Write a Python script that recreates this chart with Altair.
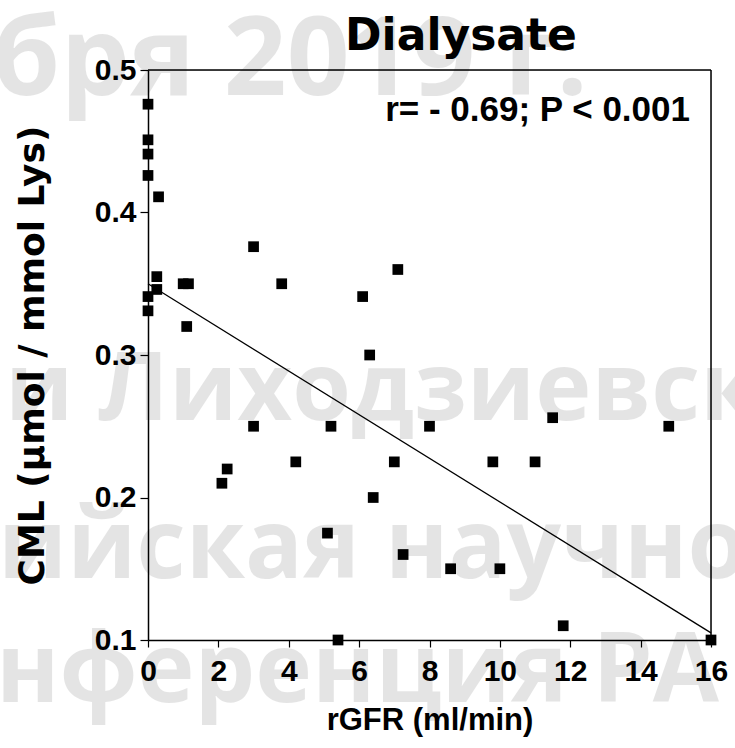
import altair as alt
import pandas as pd

# Scatter data: rGFR (ml/min) vs CML (umol / mmol Lys)
rgfr = [0, 0, 0, 0, 0.3, 0.25, 0.25, 0, 0, 1.0, 1.15, 1.1, 3.0, 3.8, 6.1, 7.1,
        6.3, 3.0, 5.2, 8.0, 11.5, 14.8, 2.25, 2.1, 4.2, 7.0, 9.8, 11.0, 6.4,
        5.1, 7.25, 8.6, 10.0, 5.4, 11.8, 16.0]
cml = [0.476, 0.451, 0.441, 0.426, 0.411, 0.355, 0.346, 0.341, 0.331, 0.350,
       0.350, 0.320, 0.376, 0.350, 0.341, 0.360, 0.300, 0.250, 0.250, 0.250,
       0.256, 0.250, 0.220, 0.210, 0.225, 0.225, 0.225, 0.225, 0.200, 0.175,
       0.160, 0.150, 0.150, 0.100, 0.110, 0.100]

# Regression line end points
fit_x = [0, 16]
fit_y = [0.35, 0.105]

title_text = "Dialysate"
stat_text = "r= - 0.69; P < 0.001"
x_title = "rGFR (ml/min)"
y_title = "CML (µmol / mmol Lys)"
x_ticks = list(range(0, 17))
y_ticks = [0.1, 0.2, 0.3, 0.4, 0.5]

watermark = ["бря 2019 г.", "и Лиходзиевск", "ийская научно", "нференция РА"]

pts = pd.DataFrame({"x": rgfr, "y": cml})
fit = pd.DataFrame({"x": fit_x, "y": fit_y})

W, H = 563, 570
LAB_FONT = "Liberation Sans"
WM_FONT = "Open Sans"

xscale = alt.Scale(domain=[0, 16], nice=False, zero=False)
yscale = alt.Scale(domain=[0.1, 0.5], nice=False, zero=False)

xaxis = alt.Axis(
    values=x_ticks, labelExpr="datum.value % 2 == 0 ? datum.label : ''",
    format="d", grid=False, domainColor="black", domainWidth=1.5,
    tickColor="black", tickWidth=1.2, tickSize=7, labelPadding=9,
    labelFont=LAB_FONT, labelFontSize=30, labelFontWeight="bold", labelColor="black",
    title=x_title, titleFont=LAB_FONT, titleFontSize=31, titleFontWeight="bold",
    titleColor="black", titleX=W / 2, titleY=89, titleAlign="center",
    titleBaseline="alphabetic", labelFlush=False, labelOverlap=False, zindex=2,
)
yaxis = alt.Axis(
    values=y_ticks, format=".1f", grid=False, domainColor="black", domainWidth=1.5,
    tickColor="black", tickWidth=1.2, tickSize=8, labelPadding=4,
    labelFont=LAB_FONT, labelFontSize=30, labelFontWeight="bold", labelColor="black",
    title=y_title, titleFont="DejaVu Sans", titleFontSize=36, titleFontWeight="bold",
    titleColor="black", titleX=-116, titleY=H / 2, titleAlign="center",
    titleBaseline="middle", titleAngle=270, labelFlush=False, labelOverlap=False,
    zindex=2,
)

layers = []
wm_pos = [(-156, 25, 110), (-143, 350, 95), (-150, 508, 96), (-152, 632, 96)]
for txt, (wx, wy, fs) in zip(watermark, wm_pos):
    layers.append(
        alt.Chart(pd.DataFrame({"t": [txt]})).mark_text(
            font=WM_FONT, fontSize=fs, fontWeight="bold", color="black",
            opacity=0.1, align="left", baseline="alphabetic",
        ).encode(text="t:N", x=alt.value(wx), y=alt.value(wy))
    )

# plot frame (top and right sides)
frame_top = alt.Chart(pd.DataFrame({"k": [0]})).mark_rule(
    color="black", strokeWidth=1.5
).encode(x=alt.value(0), x2=alt.value(W), y=alt.value(0))
frame_right = alt.Chart(pd.DataFrame({"k": [0]})).mark_rule(
    color="black", strokeWidth=1.5
).encode(x=alt.value(W), y=alt.value(0), y2=alt.value(H))

line = alt.Chart(fit).mark_line(color="black", strokeWidth=1.3, clip=False).encode(
    x=alt.X("x:Q", scale=xscale, axis=xaxis),
    y=alt.Y("y:Q", scale=yscale, axis=yaxis),
)
points = alt.Chart(pts).mark_point(
    shape="square", filled=True, color="black", size=115, opacity=1
).encode(x=alt.X("x:Q", scale=xscale), y=alt.Y("y:Q", scale=yscale))

title = alt.Chart(pd.DataFrame({"t": [title_text]})).mark_text(
    font="DejaVu Sans", fontSize=44, fontWeight="bold", color="black",
    align="center", baseline="alphabetic",
).encode(text="t:N", x=alt.value(313), y=alt.value(-20))

stat = alt.Chart(pd.DataFrame({"t": [stat_text]})).mark_text(
    font=LAB_FONT, fontSize=35, fontWeight="bold", color="black",
    align="right", baseline="alphabetic",
).encode(text="t:N", x=alt.value(542), y=alt.value(51))

chart = alt.layer(*layers, frame_top, frame_right, line, points, title, stat).properties(
    width=W, height=H,
    autosize=alt.AutoSizeParams(type="none"),
    padding={"left": 148, "top": 70, "right": 24, "bottom": 108},
).configure_view(strokeWidth=0).configure(background="white")

chart.save("out.html", embed_options={"renderer": "svg", "actions": False})
